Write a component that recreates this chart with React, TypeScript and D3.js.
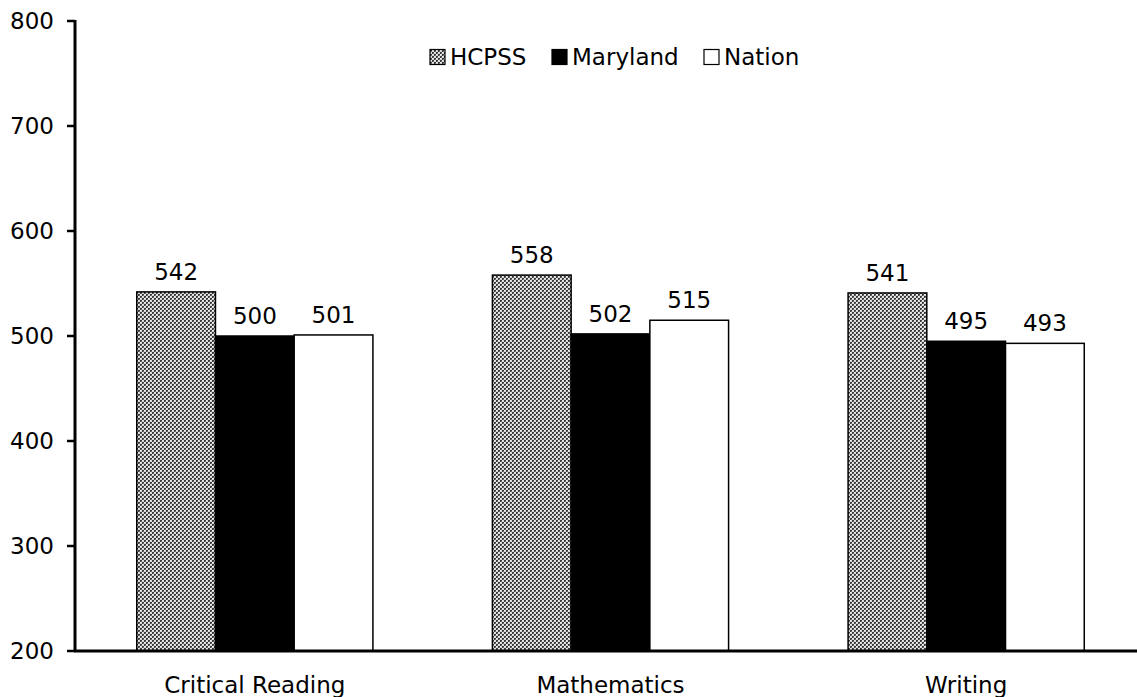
import React from "react";
import * as d3 from "d3";

const categories = ["Critical Reading", "Mathematics", "Writing"];
const seriesNames = ["HCPSS", "Maryland", "Nation"];
const hcpss = [542, 558, 541];
const maryland = [500, 502, 495];
const nation = [501, 515, 493];
const yTicks = [200, 300, 400, 500, 600, 700, 800];

const W = 1137;
const H = 697;
const FONT = "'DejaVu Sans', Verdana, sans-serif";
const FS = 23;

export default function App() {
  const values = [hcpss, maryland, nation];
  const fills = ["url(#dither)", "#000", "#fff"];

  const y = d3.scaleLinear().domain([200, 800]).range([651, 21]);
  const x0 = d3
    .scaleBand<string>()
    .domain(categories)
    .range([77, 1144])
    .paddingInner(0.336)
    .paddingOuter(0.168);
  const x1 = d3
    .scaleBand<string>()
    .domain(seriesNames)
    .range([0, x0.bandwidth()]);

  const legendX = [430, 552, 704];

  return (
    <svg
      width={W}
      height={H}
      style={{ position: "absolute", left: 0, top: 0, background: "#fff" }}
      fontFamily={FONT}
    >
      <defs>
        <pattern id="dither" width="4" height="4" patternUnits="userSpaceOnUse">
          <rect width="4" height="4" fill="#d8d8d8" />
          <rect x="0" y="0" width="2" height="2" fill="#3a3a3a" />
          <rect x="2" y="2" width="2" height="2" fill="#3a3a3a" />
          <rect x="1" y="1" width="1" height="1" fill="#777" />
          <rect x="3" y="3" width="1" height="1" fill="#777" />
          <rect x="2" y="0" width="1" height="1" fill="#f4f4f4" />
          <rect x="0" y="2" width="1" height="1" fill="#f4f4f4" />
        </pattern>
      </defs>

      {/* bars */}
      {categories.map((c, ci) => (
        <g key={c}>
          {seriesNames.map((s, si) => {
            const v = values[si][ci];
            const bx = (x0(c) ?? 0) + (x1(s) ?? 0);
            const bw = x1.bandwidth();
            return (
              <g key={s}>
                <rect
                  x={bx}
                  y={y(v)}
                  width={bw}
                  height={y(200) - y(v)}
                  fill={fills[si]}
                  stroke="#000"
                  strokeWidth={1.5}
                />
                <text
                  x={bx + bw / 2}
                  y={y(v) - 12}
                  textAnchor="middle"
                  fontSize={FS}
                  fill="#000"
                >
                  {v}
                </text>
              </g>
            );
          })}
          <text
            x={(x0(c) ?? 0) + x0.bandwidth() / 2}
            y={693}
            textAnchor="middle"
            fontSize={FS}
            fill="#000"
          >
            {c}
          </text>
        </g>
      ))}

      {/* y axis */}
      <line x1={75} x2={75} y1={y(800) - 1} y2={y(200) + 1} stroke="#000" strokeWidth={3} />
      {yTicks.map((t) => (
        <g key={t}>
          <line x1={67} x2={75} y1={y(t)} y2={y(t)} stroke="#000" strokeWidth={2.5} />
          <text
            x={54}
            y={y(t)}
            dy="0.36em"
            textAnchor="end"
            fontSize={FS}
            fill="#000"
          >
            {t}
          </text>
        </g>
      ))}
      {/* x axis */}
      <line x1={74} x2={W} y1={y(200)} y2={y(200)} stroke="#000" strokeWidth={3} />

      {/* legend */}
      {seriesNames.map((s, si) => (
        <g key={s}>
          <rect
            x={legendX[si]}
            y={49.5}
            width={15}
            height={15}
            fill={fills[si]}
            stroke="#000"
            strokeWidth={1.2}
          />
          <text x={legendX[si] + 20} y={65} fontSize={FS} fill="#000">
            {s}
          </text>
        </g>
      ))}
    </svg>
  );
}
